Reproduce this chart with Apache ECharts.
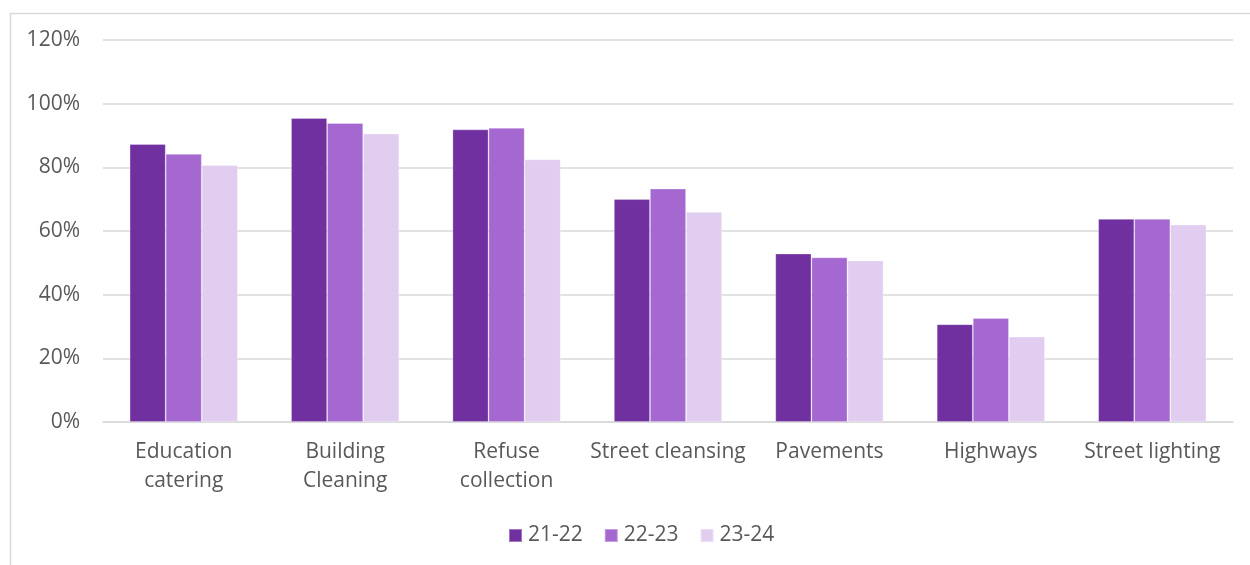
<!DOCTYPE html>
<html>
<head>
<meta charset="utf-8">
<script src="https://cdn.jsdelivr.net/npm/echarts@6/dist/echarts.min.js"></script>
<style>html,body{margin:0;padding:0;background:#fff;}#c{width:1250px;height:565px;}</style>
</head>
<body>
<div id="c"></div>
<script>
const categories = ["Education\ncatering", "Building\nCleaning", "Refuse\ncollection", "Street cleansing", "Pavements", "Highways", "Street lighting"];
const seriesNames = ["21-22", "22-23", "23-24"];
const values2122 = [87.3, 95.5, 91.9, 70.0, 52.9, 30.7, 63.8];
const values2223 = [84.2, 93.9, 92.4, 73.3, 51.7, 32.6, 63.8];
const values2324 = [80.7, 90.6, 82.5, 66.0, 50.7, 26.8, 62.0];
const yTicks = [0, 20, 40, 60, 80, 100, 120];

const colors = ["#7030A0", "#A567D0", "#E1CDF0"];
const font = "'Open Sans', 'Noto Sans', sans-serif";
const chart = echarts.init(document.getElementById('c'), null, {renderer: 'canvas'});
const allValues = [values2122, values2223, values2324];
chart.setOption({
  animation: false,
  color: colors,
  graphic: [{
    type: 'rect', left: 8, top: 11, z: -1,
    shape: {width: 1260, height: 600},
    style: {fill: 'none', stroke: '#D9D9D9', lineWidth: 1.5}
  }],
  grid: {left: 103, right: 17, top: 40, bottom: 143},
  legend: {
    data: seriesNames, bottom: 14, left: 503,
    itemWidth: 13, itemHeight: 13, itemGap: 21,
    icon: 'rect',
    textStyle: {fontFamily: font, fontSize: 21, color: '#595959', padding: [0,0,0,1]}
  },
  xAxis: {
    type: 'category', data: categories,
    axisLine: {lineStyle: {color: '#D9D9D9', width: 1.5}},
    axisTick: {show: false},
    axisLabel: {fontFamily: font, fontSize: 21, color: '#595959', lineHeight: 29, margin: 16, interval: 0}
  },
  yAxis: {
    type: 'value', min: yTicks[0], max: yTicks[yTicks.length-1], interval: 20,
    axisLine: {show: false}, axisTick: {show: false},
    splitLine: {lineStyle: {color: '#D9D9D9', width: 1.5}},
    axisLabel: {fontFamily: font, fontSize: 21, color: '#595959', margin: 23, formatter: v => v + '%'}
  },
  series: seriesNames.map((n, i) => ({
    name: n, type: 'bar', data: allValues[i],
    barGap: '0%', barCategoryGap: '33%',
    itemStyle: {color: colors[i], borderColor: 'rgba(255,255,255,0.35)', borderWidth: 0.8}
  }))
});
</script>
</body>
</html>
